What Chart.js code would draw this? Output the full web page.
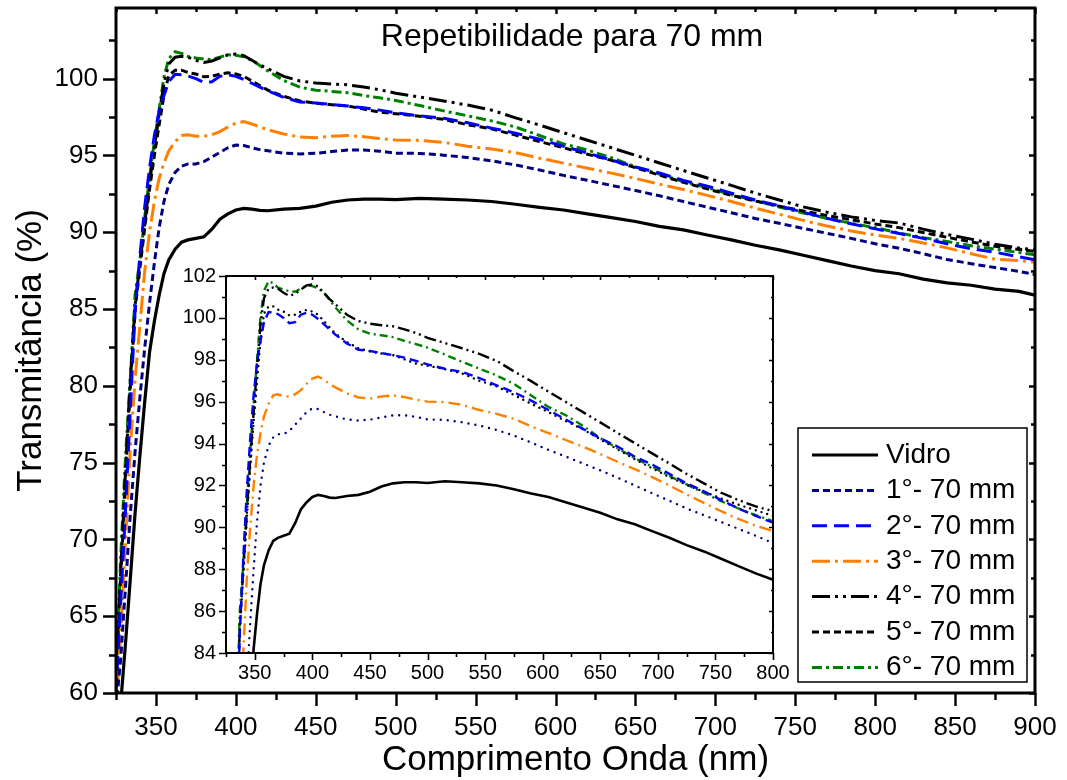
<!DOCTYPE html>
<html>
<head>
<meta charset="utf-8">
<script src="https://cdn.jsdelivr.net/npm/chart.js@4.4.0/dist/chart.umd.min.js"></script>
<style>
  html, body { margin: 0; padding: 0; background: #fff; }
  #wrap { position: relative; width: 1067px; height: 780px; }
  #main { position: absolute; left: 0; top: 0; }
  #inset { position: absolute; left: 170px; top: 262px; }
</style>
</head>
<body>
<div id="wrap">
  <canvas id="main" width="1067" height="780"></canvas>
  <canvas id="inset" width="626" height="430"></canvas>
</div>
<script>
// comprimento de onda (nm)
const wavelengths = [325, 328, 331, 334, 337, 340, 343, 346, 349, 352,
  355, 358, 362, 366, 370, 375, 380, 385, 390, 395,
  400, 405, 410, 415, 420, 430, 440, 450, 460, 470,
  480, 490, 500, 515, 530, 545, 560, 575, 590, 605,
  620, 635, 650, 665, 680, 695, 710, 725, 740, 755,
  770, 785, 800, 815, 830, 845, 860, 875, 890, 900];

// transmitancia (%)
const vidro = [56, 59.4, 63.3, 67.5, 71.8, 75.5, 79.0, 82.2, 84.2, 85.9,
  87.3, 88.2, 88.9, 89.35, 89.5, 89.6, 89.7, 90.2, 90.85, 91.2,
  91.45, 91.55, 91.5, 91.42, 91.4, 91.5, 91.55, 91.7, 91.95, 92.1,
  92.15, 92.15, 92.12, 92.2, 92.15, 92.1, 92.0, 91.82, 91.62, 91.45,
  91.2, 90.95, 90.7, 90.38, 90.15, 89.82, 89.5, 89.15, 88.85, 88.5,
  88.15, 87.8, 87.5, 87.3, 86.95, 86.7, 86.55, 86.3, 86.15, 85.9];
const rep1 = [59, 62.3, 67, 71.7, 75.8, 79.3, 82.5, 85.4, 88.0, 90.3,
  92.0, 93.1, 93.9, 94.3, 94.45, 94.45, 94.6, 94.9, 95.2, 95.5,
  95.68, 95.65, 95.5, 95.38, 95.3, 95.15, 95.1, 95.14, 95.25, 95.35,
  95.35, 95.28, 95.15, 95.13, 95.02, 94.86, 94.65, 94.38, 94.05, 93.7,
  93.38, 93.05, 92.72, 92.37, 92.0, 91.63, 91.27, 90.9, 90.58, 90.25,
  89.93, 89.6, 89.25, 88.96, 88.6, 88.23, 87.95, 87.7, 87.45, 87.25];
const rep2 = [60, 66, 72, 78.5, 85, 88.5, 91.7, 94.2, 96.3, 97.9,
  98.9, 99.8, 100.28, 100.25, 100.18, 100.0, 99.75, 99.8, 100.15, 100.25,
  100.15, 99.95, 99.7, 99.45, 99.2, 98.78, 98.48, 98.42, 98.32, 98.22,
  98.1, 97.95, 97.78, 97.57, 97.42, 97.13, 96.78, 96.45, 96.05, 95.6,
  95.15, 94.7, 94.25, 93.86, 93.37, 93.0, 92.55, 92.1, 91.72, 91.3,
  90.9, 90.55, 90.22, 89.92, 89.6, 89.25, 88.93, 88.7, 88.4, 88.2];
const rep3 = [58.5, 64, 70, 76, 80.5, 84.0, 87.5, 90.0, 92.0, 93.5,
  94.5, 95.3, 95.9, 96.3, 96.35, 96.25, 96.25, 96.35, 96.55, 96.85,
  97.1, 97.2, 97.05, 96.85, 96.68, 96.4, 96.2, 96.15, 96.25, 96.3,
  96.22, 96.1, 96.0, 95.98, 95.85, 95.6, 95.42, 95.18, 94.82, 94.5,
  94.17, 93.85, 93.5, 93.13, 92.78, 92.4, 92.0, 91.57, 91.17, 90.77,
  90.4, 90.08, 89.82, 89.6, 89.3, 88.98, 88.6, 88.25, 88.15, 88.05];
const rep4 = [60.5, 68, 74.5, 80.5, 85.3, 88.0, 90.6, 93.2, 95.5, 97.7,
  99.7, 100.95, 101.4, 101.45, 101.4, 101.2, 101.05, 101.15, 101.35, 101.55,
  101.6, 101.5, 101.2, 100.9, 100.65, 100.15, 99.85, 99.72, 99.65, 99.6,
  99.45, 99.28, 99.05, 98.8, 98.55, 98.28, 97.95, 97.45, 96.98, 96.48,
  95.99, 95.5, 95.01, 94.51, 94.02, 93.53, 93.05, 92.55, 92.1, 91.65,
  91.3, 91.0, 90.77, 90.6, 90.2, 89.85, 89.55, 89.22, 88.97, 88.85];
const rep5 = [60.5, 67.5, 74, 80, 85, 87.7, 90.3, 92.8, 95.0, 97.0,
  98.9, 100.2, 100.55, 100.55, 100.4, 100.3, 100.12, 100.15, 100.3, 100.38,
  100.3, 100.15, 99.85, 99.55, 99.25, 98.85, 98.55, 98.4, 98.3, 98.22,
  98.02, 97.82, 97.72, 97.55, 97.35, 97.0, 96.73, 96.32, 95.9, 95.5,
  95.08, 94.68, 94.2, 93.72, 93.25, 92.82, 92.4, 92.03, 91.7, 91.38,
  91.08, 90.82, 90.54, 90.3, 89.98, 89.67, 89.38, 89.08, 88.88, 88.75];
const rep6 = [61, 69, 75.5, 80.5, 86, 88.2, 91.0, 93.6, 95.9, 98.0,
  100.1, 101.3, 101.75, 101.65, 101.45, 101.35, 101.28, 101.25, 101.4, 101.55,
  101.52, 101.42, 101.2, 100.85, 100.5, 99.88, 99.45, 99.25, 99.17, 99.08,
  98.9, 98.75, 98.58, 98.25, 97.9, 97.58, 97.25, 96.85, 96.3, 95.75,
  95.35, 94.85, 94.26, 93.78, 93.3, 92.9, 92.45, 92.05, 91.64, 91.25,
  90.9, 90.58, 90.3, 89.95, 89.65, 89.4, 89.12, 88.9, 88.68, 88.53];

const seriesLabels = ['Vidro', '1°- 70 mm', '2°- 70 mm', '3°- 70 mm', '4°- 70 mm', '5°- 70 mm', '6°- 70 mm'];
const seriesValues = [vidro, rep1, rep2, rep3, rep4, rep5, rep6];

// ticks
const mainXTicks = [350, 400, 450, 500, 550, 600, 650, 700, 750, 800, 850, 900];
const mainYTicks = [60, 65, 70, 75, 80, 85, 90, 95, 100];
const insetXTicks = [350, 400, 450, 500, 550, 600, 650, 700, 750, 800];
const insetYTicks = [84, 86, 88, 90, 92, 94, 96, 98, 100, 102];

const FONT = "'Liberation Sans', Arial, Helvetica, sans-serif";
const colors = ['#000000', '#000080', '#0000ff', '#ff8000', '#000000', '#000000', '#008000'];
const mainDash = [[], [7, 4], [15, 7], [18, 5, 3, 5], [18, 5, 3, 5, 3, 5], [7, 4], [10, 4, 3, 4]];
const insetDash = [[], [0, 7], [9, 5], [12, 5, 2, 5], [12, 4, 2, 4, 2, 4], [0, 6], [8, 4, 2, 4]];

const toPoints = vals => wavelengths.map((w, i) => ({ x: w, y: vals[i] }));

// tira o padding automatico que o Chart.js poe para os rotulos das pontas
const noPad = s => { s.paddingTop = 0; s.paddingBottom = 0; s.paddingLeft = 0; s.paddingRight = 0; };

// eixos com ticks maiores/menores estilo Origin
const framePlugin = (major, minor, inMajor, inMinor, lw) => ({
    id: 'frame',
    afterDatasetsDraw(chart) {
        const { ctx, chartArea: a, scales } = chart;
        const x = scales.x, y = scales.y;
        ctx.save();
        ctx.strokeStyle = '#000';
        ctx.lineWidth = lw;
        ctx.lineCap = 'butt';
        ctx.strokeRect(a.left, a.top, a.right - a.left, a.bottom - a.top);
        ctx.lineWidth = lw * 0.8;
        const xs = [];
        for (let v = x.min; v <= x.max + 0.01; v += (mainStep(x) / 2)) xs.push(v);
        const ys = [];
        for (let v = y.min; v <= y.max + 0.01; v += (mainStep(y) / 2)) ys.push(v);
        ctx.beginPath();
        xs.forEach(v => {
            const isMajor = x.ticks.some(t => Math.abs(t.value - v) < 0.01);
            const px = Math.round(x.getPixelForValue(v)) + 0.5;
            ctx.moveTo(px, a.bottom);
            ctx.lineTo(px, a.bottom + (isMajor ? major : minor));
            ctx.moveTo(px, a.top);
            ctx.lineTo(px, a.top + (isMajor ? inMajor : inMinor));
        });
        ys.forEach(v => {
            const isMajor = y.ticks.some(t => Math.abs(t.value - v) < 0.01);
            const py = Math.round(y.getPixelForValue(v)) + 0.5;
            ctx.moveTo(a.left, py);
            ctx.lineTo(a.left - (isMajor ? major : minor), py);
            ctx.moveTo(a.right, py);
            ctx.lineTo(a.right - (isMajor ? inMajor : inMinor), py);
        });
        ctx.stroke();
        ctx.restore();
    }
});
function mainStep(scale) {
    const t = scale.ticks;
    return t[1].value - t[0].value;
}

const whiteArea = {
    id: 'whiteArea',
    beforeDraw(chart) {
        const { ctx, chartArea: a } = chart;
        ctx.save();
        ctx.fillStyle = '#fff';
        ctx.fillRect(a.left, a.top, a.right - a.left, a.bottom - a.top);
        ctx.restore();
    }
};

const titleText = {
    id: 'titleText',
    afterDraw(chart) {
        const { ctx } = chart;
        ctx.save();
        ctx.fillStyle = '#000';
        ctx.font = `32px ${FONT}`;
        ctx.textAlign = 'center';
        ctx.textBaseline = 'middle';
        ctx.fillText('Repetibilidade para 70 mm', 572, 37);
        ctx.restore();
    }
};

const legendBox = {
    id: 'legendBox',
    afterDraw(chart) {
        const { ctx } = chart;
        const box = { l: 798, t: 428, r: 1027, b: 682 };
        ctx.save();
        ctx.fillStyle = '#fff';
        ctx.fillRect(box.l, box.t, box.r - box.l, box.b - box.t);
        ctx.strokeStyle = '#000';
        ctx.lineWidth = 1.5;
        ctx.strokeRect(box.l, box.t, box.r - box.l, box.b - box.t);
        ctx.font = `28px ${FONT}`;
        ctx.textBaseline = 'middle';
        chart.data.datasets.forEach((ds, i) => {
            const yy = 455 + i * 35.4;
            ctx.strokeStyle = ds.borderColor;
            ctx.lineWidth = 3;
            ctx.setLineDash(ds.borderDash);
            ctx.beginPath();
            ctx.moveTo(812, yy);
            ctx.lineTo(878, yy);
            ctx.stroke();
            ctx.setLineDash([]);
            ctx.fillStyle = '#000';
            ctx.fillText(ds.label, 886, yy);
        });
        ctx.restore();
    }
};

// grafico principal
new Chart(document.getElementById('main'), {
    type: 'line',
    data: {
        datasets: seriesValues.map((vals, i) => ({
            label: seriesLabels[i],
            data: toPoints(vals),
            borderColor: colors[i],
            borderDash: mainDash[i],
            borderWidth: i === 0 ? 3.2 : 3,
            pointRadius: 0,
            fill: false,
            tension: 0
        }))
    },
    options: {
        responsive: false,
        animation: false,
        devicePixelRatio: 1,
        layout: { padding: { top: 8, right: 32, left: 0, bottom: 0 } },
        plugins: { legend: { display: false }, tooltip: { enabled: false } },
        scales: {
            x: {
                type: 'linear', min: 325, max: 900,
                afterBuildTicks: s => { s.ticks = mainXTicks.map(v => ({ value: v })); },
                afterFit: s => { s.height = 87; noPad(s); },
                grid: { display: false, drawTicks: false },
                border: { display: false },
                ticks: { color: '#000', font: { family: FONT, size: 26 }, padding: 19, maxRotation: 0, autoSkip: false },
                title: { display: true, text: 'Comprimento Onda (nm)', color: '#000',
                    font: { family: FONT, size: 35, lineHeight: 1 }, padding: { top: 0, bottom: 2 } }
            },
            y: {
                type: 'linear', min: 60, max: 104.6,
                afterBuildTicks: s => { s.ticks = mainYTicks.map(v => ({ value: v })); },
                afterFit: s => { s.width = 116; noPad(s); },
                grid: { display: false, drawTicks: false },
                border: { display: false },
                ticks: { color: '#000', font: { family: FONT, size: 26 }, padding: 18, autoSkip: false },
                title: { display: true, text: 'Transmitância (%)', color: '#000',
                    font: { family: FONT, size: 35, lineHeight: 1 }, padding: { top: 14, bottom: 0 } }
            }
        }
    },
    plugins: [framePlugin(13, 7, 6, 4, 3), titleText, legendBox]
});

// grafico inserido (zoom)
new Chart(document.getElementById('inset'), {
    type: 'line',
    data: {
        datasets: seriesValues.map((vals, i) => ({
            label: seriesLabels[i],
            data: toPoints(vals).filter(p => p.x <= 815),
            borderColor: colors[i],
            borderDash: insetDash[i],
            borderCapStyle: (i === 1 || i === 5) ? 'round' : 'butt',
            borderWidth: i === 0 ? 2.6 : 2.4,
            pointRadius: 0,
            fill: false,
            tension: 0
        }))
    },
    options: {
        responsive: false,
        animation: false,
        devicePixelRatio: 1,
        layout: { padding: { top: 14, right: 23, left: 0, bottom: 0 } },
        plugins: { legend: { display: false }, tooltip: { enabled: false } },
        scales: {
            x: {
                type: 'linear', min: 325, max: 800,
                afterBuildTicks: s => { s.ticks = insetXTicks.map(v => ({ value: v })); },
                afterFit: s => { s.height = 39; noPad(s); },
                grid: { display: false, drawTicks: false },
                border: { display: false },
                ticks: { color: '#000', font: { family: FONT, size: 20 }, padding: 8, maxRotation: 0, autoSkip: false }
            },
            y: {
                type: 'linear', min: 84, max: 102,
                afterBuildTicks: s => { s.ticks = insetYTicks.map(v => ({ value: v })); },
                afterFit: s => { s.width = 56; noPad(s); },
                grid: { display: false, drawTicks: false },
                border: { display: false },
                ticks: { color: '#000', font: { family: FONT, size: 20 }, padding: 10, autoSkip: false }
            }
        }
    },
    plugins: [whiteArea, framePlugin(7, 4, 4, 2, 2)]
});
</script>
</body>
</html>
